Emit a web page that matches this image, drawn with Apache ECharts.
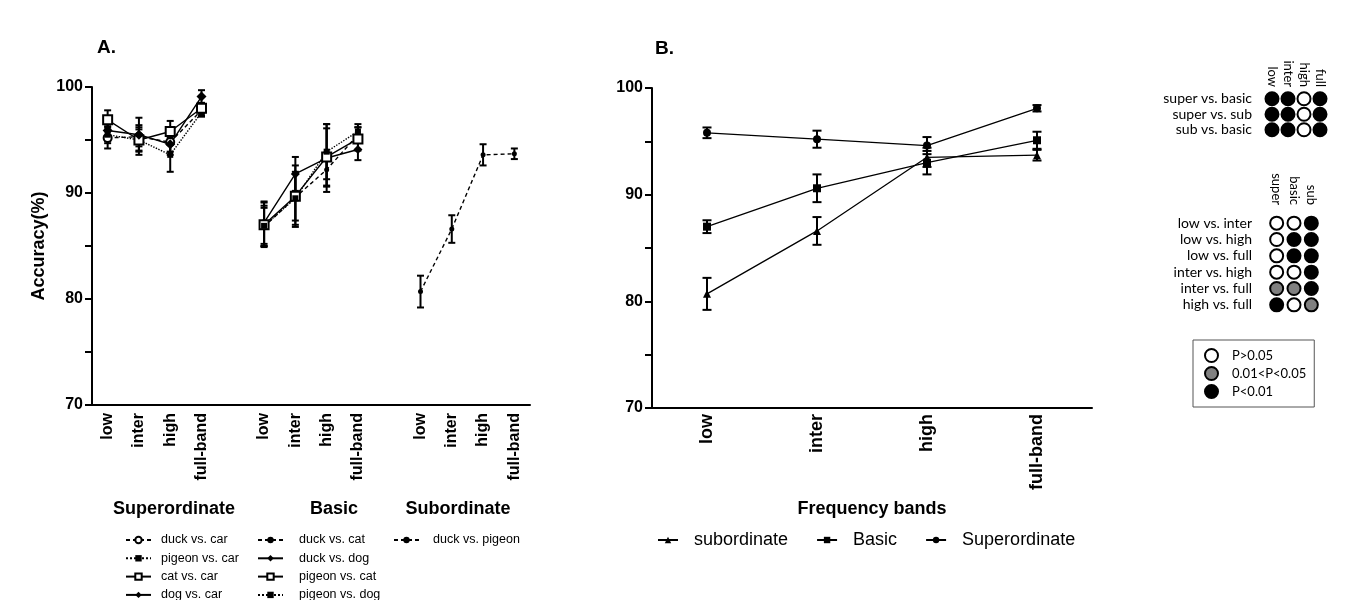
<!DOCTYPE html>
<html>
<head>
<meta charset="utf-8">
<title>Accuracy by frequency band</title>
<script src="https://cdn.jsdelivr.net/npm/echarts@6/dist/echarts.min.js"></script>
<style>
  html, body { margin: 0; background: #fff; }
  #chart { width: 1350px; height: 600px; }
</style>
</head>
<body>
<div id="chart"></div>
<script>
  // ---- data ----
  const bandsA = ['low', 'inter', 'high', 'full-band', '', 'low', 'inter', 'high', 'full-band', '', 'low', 'inter', 'high', 'full-band'];
  const bandsB = ['low', 'inter', 'high', 'full-band'];

  const superNames = ['duck vs. car', 'pigeon vs. car', 'cat vs. car', 'dog vs. car'];
  const superMean = [
    [95.2, 95.3, 94.8, 97.8],
    [95.5, 95.0, 93.6, 97.6],
    [96.9, 95.0, 95.8, 98.0],
    [95.9, 95.5, 94.6, 99.1]
  ];
  const superErr = [
    [1.0, 0.9, 0.9, 0.5],
    [0.8, 1.4, 1.6, 0.4],
    [0.9, 1.0, 1.0, 0.5],
    [1.0, 1.6, 1.0, 0.6]
  ];

  const basicNames = ['duck vs. cat', 'duck vs. dog', 'pigeon vs. cat', 'pigeon vs. dog'];
  const basicMean = [
    [86.8, 89.6, 92.2, 95.5],
    [87.2, 91.8, 93.3, 94.1],
    [87.0, 89.7, 93.4, 95.1],
    [86.9, 89.5, 93.9, 95.8]
  ];
  const basicErr = [
    [1.8, 2.2, 1.6, 0.7],
    [2.0, 1.6, 3.2, 1.0],
    [2.1, 2.9, 2.7, 1.1],
    [1.9, 2.5, 2.6, 0.7]
  ];

  const subNames = ['duck vs. pigeon'];
  const subMean = [[80.7, 86.6, 93.6, 93.7]];
  const subErr = [[1.5, 1.3, 1.0, 0.5]];

  const levelNames = ['subordinate', 'Basic', 'Superordinate'];
  const levelMean = [
    [80.7, 86.6, 93.5, 93.7],
    [87.0, 90.6, 93.0, 95.1],
    [95.8, 95.2, 94.6, 98.1]
  ];
  const levelErr = [
    [1.5, 1.3, 0.9, 0.5],
    [0.6, 1.3, 1.1, 0.8],
    [0.5, 0.8, 0.8, 0.3]
  ];

  // significance tables: 0 = P>0.05, 1 = 0.01<P<0.05, 2 = P<0.01
  const sigLevels = ['P>0.05', '0.01<P<0.05', 'P<0.01'];
  const topCols = ['low', 'inter', 'high', 'full'];
  const topRows = ['super vs. basic', 'super vs. sub', 'sub vs. basic'];
  const topSig = [[2, 2, 0, 2], [2, 2, 0, 2], [2, 2, 0, 2]];
  const botCols = ['super', 'basic', 'sub'];
  const botRows = ['low vs. inter', 'low vs. high', 'low vs. full', 'inter vs. high', 'inter vs. full', 'high vs. full'];
  const botSig = [[0, 0, 2], [0, 2, 2], [0, 2, 2], [0, 0, 2], [1, 1, 2], [2, 0, 1]];

  // ---- styles ----
  const ARIAL = 'Liberation Sans';
  const superStyle = [
    { type: [4, 3], symbol: 'emptyCircle', size: 8 },
    { type: 'dotted', symbol: 'rect', size: 6 },
    { type: 'solid', symbol: 'emptyRect', size: 9 },
    { type: 'solid', symbol: 'diamond', size: 10 }
  ];
  const basicStyle = [
    { type: [4, 3], symbol: 'circle', size: 5 },
    { type: 'solid', symbol: 'diamond', size: 9 },
    { type: 'solid', symbol: 'emptyRect', size: 9 },
    { type: 'dotted', symbol: 'rect', size: 6 }
  ];
  const subStyle = [{ type: [4, 3], symbol: 'circle', size: 5 }];
  const levelStyle = [
    { type: 'solid', symbol: 'triangle', size: 8 },
    { type: 'solid', symbol: 'rect', size: 8 },
    { type: 'solid', symbol: 'circle', size: 8 }
  ];
  const sigFill = ['#fff', '#808080', '#000'];

  function errBars(capHalf, lw) {
    return function (params, api) {
      const x = api.value(0), m = api.value(1), e = api.value(2);
      const top = api.coord([x, m + e]);
      const bot = api.coord([x, m - e]);
      const s = { stroke: '#000', lineWidth: lw };
      return {
        type: 'group',
        children: [
          { type: 'line', shape: { x1: top[0], y1: top[1], x2: bot[0], y2: bot[1] }, style: s },
          { type: 'line', shape: { x1: top[0] - capHalf, y1: top[1], x2: top[0] + capHalf, y2: top[1] }, style: s },
          { type: 'line', shape: { x1: bot[0] - capHalf, y1: bot[1], x2: bot[0] + capHalf, y2: bot[1] }, style: s }
        ]
      };
    };
  }

  const series = [];
  function addGroup(names, means, errs, styles, offset, axis, lw, cap, elw) {
    names.forEach(function (name, k) {
      const st = styles[k];
      const empty = st.symbol.indexOf('empty') === 0;
      series.push({
        type: 'custom',
        xAxisIndex: axis, yAxisIndex: axis,
        data: means[k].map(function (v, i) { return [offset + i, v, errs[k][i]]; }),
        encode: { x: 0, y: 1 },
        renderItem: errBars(cap, elw),
        silent: true,
        z: 2
      });
      series.push({
        type: 'line',
        name: name,
        xAxisIndex: axis, yAxisIndex: axis,
        data: means[k].map(function (v, i) { return [offset + i, v]; }),
        symbol: st.symbol,
        symbolSize: st.size,
        showAllSymbol: true,
        lineStyle: { color: '#000', width: lw, type: st.type },
        itemStyle: empty ? { color: '#000', borderWidth: 2 } : { color: '#000' },
        emphasis: { disabled: true },
        z: 3
      });
    });
  }
  addGroup(superNames, superMean, superErr, superStyle, 0, 0, 1.4, 3.5, 2);
  addGroup(basicNames, basicMean, basicErr, basicStyle, 5, 0, 1.4, 3.5, 2);
  addGroup(subNames, subMean, subErr, subStyle, 10, 0, 1.4, 3.5, 2);
  addGroup(levelNames, levelMean, levelErr, levelStyle, 0, 1, 1.3, 4.5, 2);

  function addSig(table, axis) {
    sigLevels.forEach(function (lvl, li) {
      const pts = [];
      table.forEach(function (row, r) {
        row.forEach(function (v, c) { if (v === li) pts.push([c, r]); });
      });
      series.push({
        type: 'scatter',
        name: lvl,
        xAxisIndex: axis, yAxisIndex: axis,
        data: pts,
        symbol: 'circle',
        symbolSize: 13,
        itemStyle: { color: sigFill[li], borderColor: '#000', borderWidth: 2, opacity: 1 },
        emphasis: { disabled: true }
      });
    });
  }
  addSig(topSig, 2);
  addSig(botSig, 3);

  const valueY = function (grid) {
    return {
      type: 'value', gridIndex: grid, min: 70, max: 100, interval: 5,
      axisLine: { show: true, lineStyle: { color: '#000', width: 2 } },
      axisTick: { show: true, length: 7, lineStyle: { color: '#000', width: 2 } },
      axisLabel: {
        color: '#000', fontFamily: ARIAL, fontWeight: 'bold', fontSize: 16, margin: 9,
        formatter: function (v) { return v % 10 === 0 ? String(v) : ''; }
      },
      splitLine: { show: false }
    };
  };

  const legendA = function (names, left, gap) {
    return {
      data: names, orient: 'vertical', left: left, top: 533, height: 80, padding: 0,
      itemWidth: 25, itemHeight: 8, itemGap: 4.3,
      textStyle: { color: '#000', fontFamily: ARIAL, fontSize: 12.5, lineHeight: 14, padding: [0, 0, 0, gap] },
      selectedMode: false
    };
  };

  const chart = echarts.init(document.getElementById('chart'), null, { renderer: 'canvas' });
  chart.setOption({
    animation: false,
    backgroundColor: '#fff',
    grid: [
      { left: 92, top: 87, width: 438, height: 318 },
      { left: 652, top: 88, width: 440, height: 320 },
      { left: 1264, top: 91, width: 64, height: 46.5 },
      { left: 1268, top: 215, width: 52, height: 98 }
    ],
    xAxis: [
      {
        type: 'category', gridIndex: 0, data: bandsA,
        axisLine: { lineStyle: { color: '#000', width: 2 } },
        axisTick: { show: false },
        axisLabel: { interval: 0, rotate: 90, color: '#000', fontFamily: ARIAL, fontWeight: 'bold', fontSize: 16, margin: 8 }
      },
      {
        type: 'category', gridIndex: 1, data: bandsB,
        axisLine: { lineStyle: { color: '#000', width: 2 } },
        axisTick: { show: false },
        axisLabel: { interval: 0, rotate: 90, color: '#000', fontFamily: ARIAL, fontWeight: 'bold', fontSize: 18, margin: 6 },
        name: 'Frequency bands', nameLocation: 'middle', nameGap: 92,
        nameTextStyle: { color: '#000', fontFamily: ARIAL, fontWeight: 'bold', fontSize: 18 }
      },
      {
        type: 'category', gridIndex: 2, data: topCols, position: 'top',
        axisLine: { show: false }, axisTick: { show: false },
        axisLabel: { interval: 0, rotate: 90, color: '#000', fontFamily: 'Lato', fontSize: 13, margin: 4 }
      },
      {
        type: 'category', gridIndex: 3, data: botCols, position: 'top',
        axisLine: { show: false }, axisTick: { show: false },
        axisLabel: { interval: 0, rotate: 90, color: '#000', fontFamily: 'Lato', fontSize: 13, margin: 10 }
      }
    ],
    yAxis: [
      Object.assign(valueY(0), {
        name: 'Accuracy(%)', nameLocation: 'middle', nameGap: 44,
        nameTextStyle: { color: '#000', fontFamily: ARIAL, fontWeight: 'bold', fontSize: 18 }
      }),
      valueY(1),
      {
        type: 'category', gridIndex: 2, data: topRows, inverse: true,
        axisLine: { show: false }, axisTick: { show: false },
        axisLabel: { interval: 0, color: '#000', fontFamily: 'Lato', fontSize: 14, margin: 12 }
      },
      {
        type: 'category', gridIndex: 3, data: botRows, inverse: true,
        axisLine: { show: false }, axisTick: { show: false },
        axisLabel: { interval: 0, color: '#000', fontFamily: 'Lato', fontSize: 14, margin: 16 }
      }
    ],
    legend: [
      legendA(superNames, 125, 5),
      legendA(basicNames, 257, 11),
      legendA(subNames, 393, 9),
      {
        data: levelNames, orient: 'horizontal', left: 652, top: 526,
        itemWidth: 20, itemHeight: 8, itemGap: 28,
        textStyle: { color: '#000', fontFamily: ARIAL, fontSize: 18, padding: [0, 0, 0, 11] },
        selectedMode: false
      },
      {
        data: sigLevels, orient: 'vertical', left: 1193, top: 340,
        itemWidth: 13, itemHeight: 13, itemGap: 3,
        padding: [8, 8, 8, 11],
        borderColor: '#555', borderWidth: 1,
        textStyle: { color: '#000', fontFamily: 'Lato', fontSize: 13, padding: [0, 0, 0, 9] },
        selectedMode: false
      }
    ],
    graphic: [
      { type: 'text', left: 97, top: 38, style: { text: 'A.', font: 'bold 19px "Liberation Sans"', fill: '#000' } },
      { type: 'text', left: 655, top: 39, style: { text: 'B.', font: 'bold 19px "Liberation Sans"', fill: '#000' } },
      { type: 'text', x: 174, y: 509, style: { text: 'Superordinate', font: 'bold 18px "Liberation Sans"', fill: '#000', align: 'center', verticalAlign: 'middle' } },
      { type: 'text', x: 334, y: 509, style: { text: 'Basic', font: 'bold 18px "Liberation Sans"', fill: '#000', align: 'center', verticalAlign: 'middle' } },
      { type: 'text', x: 458, y: 509, style: { text: 'Subordinate', font: 'bold 18px "Liberation Sans"', fill: '#000', align: 'center', verticalAlign: 'middle' } }
    ],
    series: series
  });
</script>
</body>
</html>
